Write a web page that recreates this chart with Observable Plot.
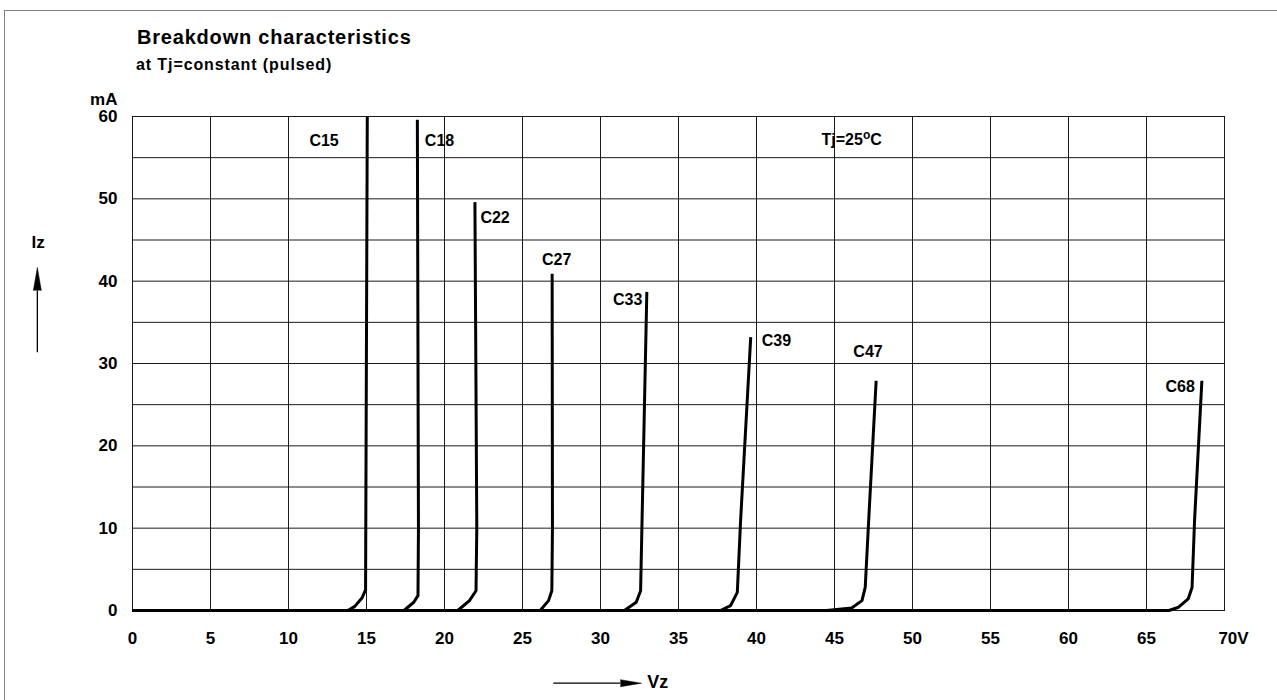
<!DOCTYPE html>
<html>
<head>
<meta charset="utf-8">
<script src="https://cdn.jsdelivr.net/npm/d3@7"></script>
<script src="https://cdn.jsdelivr.net/npm/@observablehq/plot@0.6"></script>
<style>
  html, body { margin: 0; padding: 0; background: #fff; }
  #wrap { position: relative; width: 1277px; height: 700px; overflow: hidden; background: #fff;
          font-family: "Liberation Sans", Arial, sans-serif; font-weight: bold; color: #000; }
  #header { position: relative; height: 85px; }
  #title { position: absolute; left: 137px; top: 27px; font-size: 20px; line-height: 20px; letter-spacing: 0.8px; white-space: nowrap; }
  #subtitle { position: absolute; left: 136px; top: 57px; font-size: 16px; line-height: 16px; letter-spacing: 0.9px; white-space: nowrap; }
  #bTop { position: absolute; left: 4px; top: 10px; width: 1273px; height: 0; border-top: 1px solid #808080; }
  #bLeft { position: absolute; left: 4px; top: 10px; width: 0; height: 690px; border-left: 1px solid #808080; }
  #chart svg { display: block; }
</style>
</head>
<body>
<div id="wrap">
  <div id="header">
    <div id="title">Breakdown characteristics</div>
    <div id="subtitle">at Tj=constant (pulsed)</div>
  </div>
  <div id="chart"></div>
  <div id="bTop"></div>
  <div id="bLeft"></div>
</div>
<script>
// ---- axis ticks ----
const xTicks = [0, 5, 10, 15, 20, 25, 30, 35, 40, 45, 50, 55, 60, 65];
const xLastTick = [70];
const xLastLabel = "70V";
const xGrid = [0, 5, 10, 15, 20, 25, 30, 35, 40, 45, 50, 55, 60, 65, 70];
const yTicks = [0, 10, 20, 30, 40, 50, 60];
const yGrid = [0, 5, 10, 15, 20, 25, 30, 35, 40, 45, 50, 55, 60];

// ---- breakdown curves: Vz (V) and Iz (mA) ----
const devices = ["C15", "C18", "C22", "C27", "C33", "C39", "C47", "C68"];
const c15V = [0, 13.8, 14.25, 14.72, 14.94, 15.05];
const c15I = [0, 0, 0.5, 1.55, 2.5, 60];
const c18V = [0, 17.4, 18.03, 18.3, 18.33, 18.26];
const c18I = [0, 0, 1.0, 1.8, 10, 59.6];
const c22V = [0, 20.85, 21.6, 22.02, 22.07, 21.95];
const c22I = [0, 0, 1.2, 2.4, 10, 49.6];
const c27V = [0, 26.13, 26.67, 26.88, 26.92, 26.9];
const c27I = [0, 0, 1.2, 2.4, 10, 40.9];
const c33V = [0, 31.53, 32.29, 32.57, 32.65, 32.97];
const c33I = [0, 0, 1.0, 2.4, 9.7, 38.7];
const c39V = [0, 37.69, 38.34, 38.77, 38.98, 39.63];
const c39I = [0, 0, 0.6, 2.2, 10.9, 33.2];
const c47V = [0, 44.49, 46.1, 46.76, 46.97, 47.19, 47.67];
const c47I = [0, 0, 0.3, 1.2, 2.8, 10.9, 27.9];
const c68V = [0, 66.44, 67.06, 67.67, 67.92, 68.08, 68.55];
const c68I = [0, 0, 0.4, 1.4, 2.8, 10.9, 27.9];

// ---- curve labels ----
const labelText   = ["C15", "C18", "C22", "C27", "C33", "C39", "C47", "C68"];
const labelV      = [12.28, 18.74, 22.3, 27.19, 32.68, 40.34, 47.15, 68.1];
const labelI      = [57.0, 57.0, 47.7, 42.55, 37.7, 32.8, 31.4, 27.15];
const labelAnchor = ["middle", "start", "start", "middle", "end", "start", "middle", "end"];

const noteText = "Tj=25°C";
const noteV = 44.17;
const noteI = 57.2;

// ---- axis annotations ----
const yUnitText = "mA";
const yNameText = "Iz";
const xNameText = "Vz";
const yNamePos = {v: -6.05, i: 44.7};
const yArrow = {v: -6.1, i1: 31.37, i2: 38.87};
const xNamePos = {v: 33.0, i: -8.71};
const xArrow = {i: -8.83, v1: 26.97, v2: 31.28};

// build tables
const curveV = [c15V, c18V, c22V, c27V, c33V, c39V, c47V, c68V];
const curveI = [c15I, c18I, c22I, c27I, c33I, c39I, c47I, c68I];
const rows = [];
devices.forEach((d, k) => curveV[k].forEach((v, j) => rows.push({device: d, v, i: curveI[k][j]})));
const labels = labelText.map((t, k) => ({t, v: labelV[k], i: labelI[k], a: labelAnchor[k]}));

const gridStyle = {stroke: "#1a1a1a", strokeOpacity: 1, strokeWidth: 1};
const font = "Liberation Sans, Arial, sans-serif";
const labelMark = (anchor) => Plot.text(labels.filter(d => d.a === anchor),
  {x: "v", y: "i", text: "t", textAnchor: anchor, fontSize: 16, fontWeight: "bold", fill: "#000"});

const chart = Plot.plot({
  width: 1277,
  height: 615,
  marginLeft: 132,
  marginRight: 53,
  marginTop: 31,
  marginBottom: 90,
  x: {domain: [0, 70], label: null},
  y: {domain: [0, 60], label: null},
  style: {fontFamily: font, fontSize: "16px", fontWeight: "bold", color: "#000", background: "#fff", overflow: "visible"},
  marks: [
    Plot.gridX(xGrid, gridStyle),
    Plot.gridY(yGrid, gridStyle),
    Plot.frame({stroke: "#1a1a1a", strokeWidth: 1}),
    Plot.axisX(xTicks, {tickSize: 0, tickPadding: 21, label: null, fontSize: 17, fontWeight: "bold"}),
    Plot.axisX(xLastTick, {tickSize: 0, tickPadding: 21, label: null, fontSize: 17, fontWeight: "bold", tickFormat: () => xLastLabel, dx: 9}),
    Plot.axisY(yTicks, {tickSize: 0, tickPadding: 15, label: null, fontSize: 17, fontWeight: "bold"}),
    Plot.line(rows, {x: "v", y: "i", z: "device", stroke: "#000", strokeWidth: 3, strokeLinejoin: "round", strokeLinecap: "butt"}),
    labelMark("start"),
    labelMark("middle"),
    labelMark("end"),
    Plot.text([noteText], {x: () => noteV, y: () => noteI, text: d => d, textAnchor: "start", fontSize: 16, fontWeight: "bold", fill: "#000"}),
    // unit label above y axis
    Plot.text([yUnitText], {x: () => 0, y: () => 60, text: d => d, textAnchor: "end", dx: -15, dy: -17, fontSize: 17, fontWeight: "bold"}),
    // Iz axis name with arrow
    Plot.text([yNameText], {x: () => yNamePos.v, y: () => yNamePos.i, text: d => d, fontSize: 17, fontWeight: "bold"}),
    Plot.link([yArrow], {x1: "v", x2: "v", y1: "i1", y2: "i2", stroke: "#000", strokeWidth: 1.3}),
    Plot.vector([yArrow], {x: "v", y: "i2", length: 23, r: 4, rotate: 0, anchor: "start", shape: "spike", fill: "#000", stroke: "#000", strokeWidth: 0.5}),
    // Vz axis name with arrow
    Plot.link([xArrow], {x1: "v1", x2: "v2", y1: "i", y2: "i", stroke: "#000", strokeWidth: 1.3}),
    Plot.vector([xArrow], {x: "v2", y: "i", length: 21, r: 3.5, rotate: 90, anchor: "start", shape: "spike", fill: "#000", stroke: "#000", strokeWidth: 0.5}),
    Plot.text([xNameText], {x: () => xNamePos.v, y: () => xNamePos.i, text: d => d, textAnchor: "start", fontSize: 18, fontWeight: "bold"})
  ]
});

// superscript "o" in the temperature note
for (const t of chart.querySelectorAll("text")) {
  if (t.textContent === noteText) {
    t.textContent = "";
    const ns = "http://www.w3.org/2000/svg";
    const a = document.createElementNS(ns, "tspan"); a.textContent = "Tj=25";
    const b = document.createElementNS(ns, "tspan"); b.textContent = "o"; b.setAttribute("dy", "-6"); b.setAttribute("font-size", "12");
    const c = document.createElementNS(ns, "tspan"); c.textContent = "C"; c.setAttribute("dy", "6");
    t.append(a, b, c);
  }
}

document.getElementById("chart").append(chart);
</script>
</body>
</html>
